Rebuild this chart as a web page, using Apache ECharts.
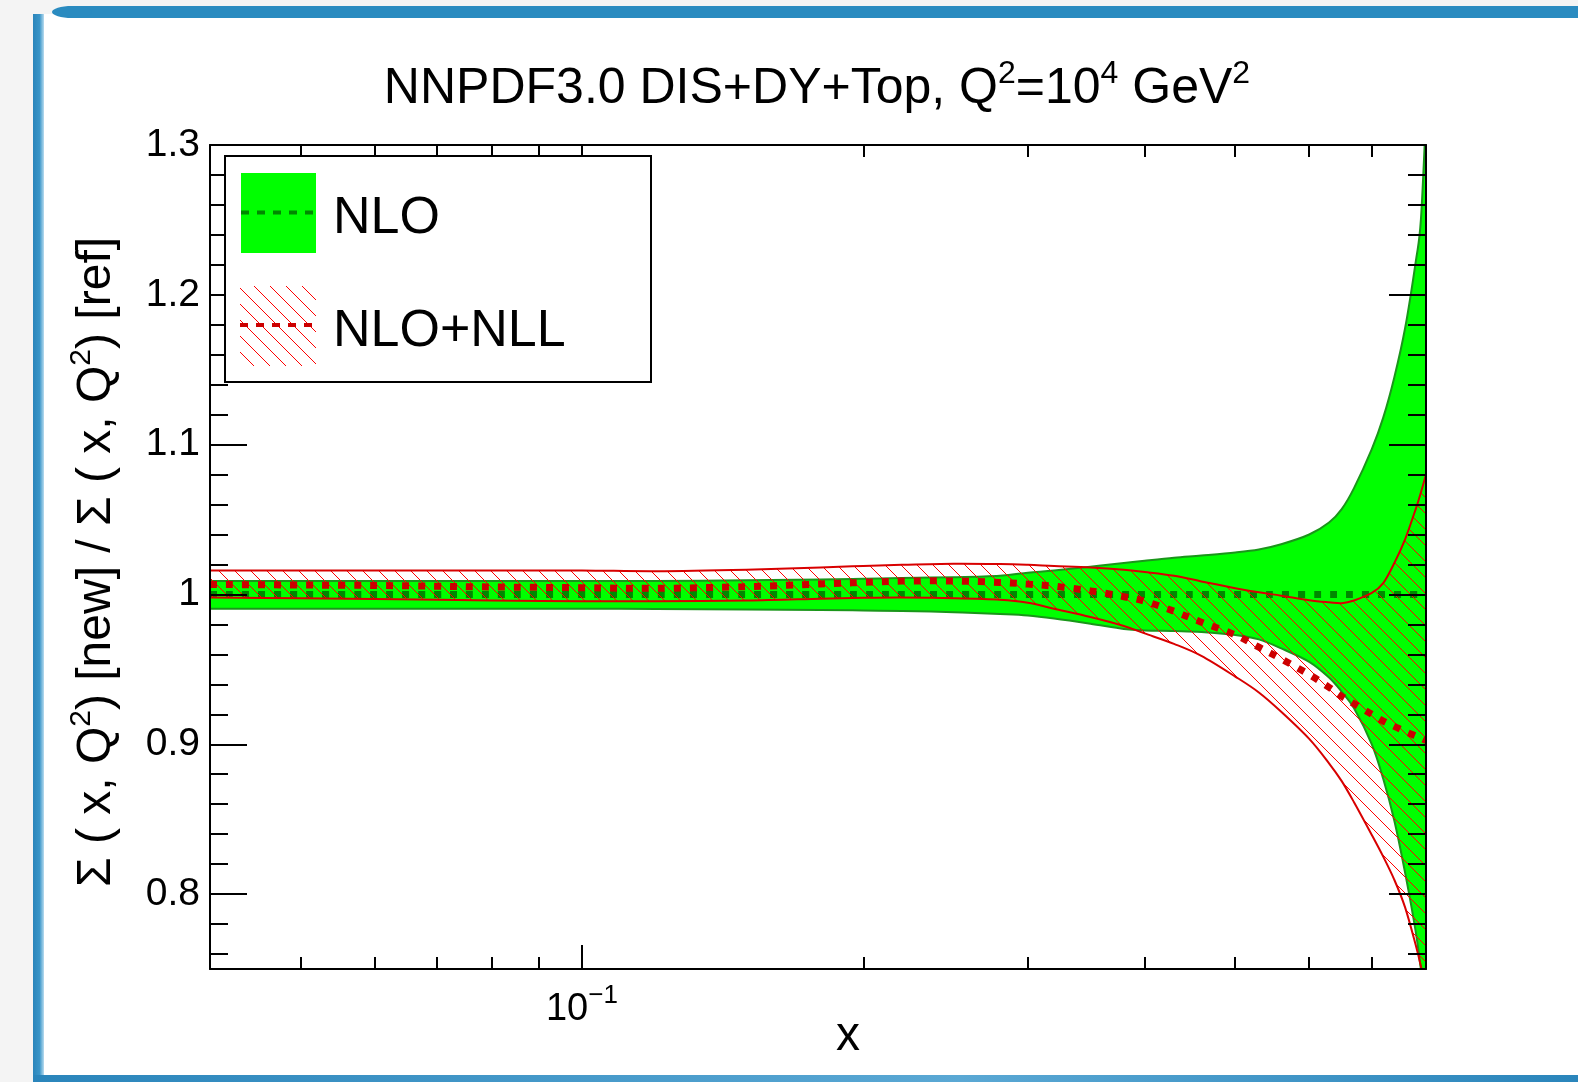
<!DOCTYPE html>
<html><head><meta charset="utf-8">
<script src="https://cdn.jsdelivr.net/npm/echarts@6/dist/echarts.min.js"></script>
<style>html,body{margin:0;padding:0;background:#f4f4f4;} #c{width:1578px;height:1082px;}</style>
</head><body><div id="c"></div>
<script>
// ---------------- data ----------------
const xs = [0.04, 0.05, 0.06, 0.07, 0.08, 0.1, 0.12, 0.15, 0.18, 0.2, 0.22, 0.25, 0.28, 0.3, 0.32, 0.35, 0.38, 0.4, 0.43, 0.46, 0.5, 0.53, 0.56, 0.6, 0.63, 0.65, 0.67, 0.7, 0.72, 0.74, 0.76, 0.78, 0.79, 0.8];
const nloCentral = [1, 1, 1, 1, 1, 1, 1, 1, 1, 1, 1, 1, 1, 1, 1, 1, 1, 1, 1, 1, 1, 1, 1, 1, 1, 1, 1, 1, 1, 1, 1, 1, 1, 1];
const nloUpper = [1.009, 1.009, 1.009, 1.009, 1.009, 1.009, 1.009, 1.0095, 1.010, 1.0105, 1.011, 1.0115, 1.0125, 1.0145, 1.016, 1.0185, 1.021, 1.0225, 1.0245, 1.026, 1.028, 1.030, 1.0335, 1.040, 1.048, 1.057, 1.071, 1.097, 1.118, 1.145, 1.178, 1.222, 1.25, 1.32];
const nloLower = [0.9905, 0.9905, 0.9905, 0.9905, 0.9905, 0.9905, 0.9903, 0.990, 0.9896, 0.9893, 0.989, 0.9882, 0.987, 0.986, 0.984, 0.9805, 0.977, 0.976, 0.9756, 0.975, 0.973, 0.970, 0.964, 0.955, 0.9445, 0.935, 0.924, 0.900, 0.877, 0.849, 0.814, 0.775, 0.750, 0.730];
const nllCentral = [1.0067, 1.0063, 1.006, 1.0055, 1.005, 1.0045, 1.0041, 1.0052, 1.007, 1.008, 1.0089, 1.009, 1.008, 1.0069, 1.0055, 1.0024, 0.9985, 0.9955, 0.9888, 0.9815, 0.973, 0.9648, 0.957, 0.9465, 0.938, 0.932, 0.927, 0.920, 0.9155, 0.912, 0.9085, 0.9055, 0.904, 0.9025];
const nllUpper = [1.016, 1.016, 1.016, 1.016, 1.016, 1.016, 1.0155, 1.0165, 1.018, 1.019, 1.0198, 1.0205, 1.0203, 1.0198, 1.019, 1.018, 1.0165, 1.015, 1.0125, 1.0087, 1.0042, 1.0014, 0.9992, 0.9962, 0.9948, 0.9942, 0.996, 1.001, 1.0076, 1.021, 1.037, 1.057, 1.068, 1.080];
const nllLower = [0.998, 0.9975, 0.997, 0.9965, 0.996, 0.9955, 0.9955, 0.996, 0.9972, 0.9978, 0.998, 0.9975, 0.9965, 0.9945, 0.9905, 0.985, 0.979, 0.974, 0.967, 0.959, 0.9452, 0.9346, 0.9217, 0.9036, 0.8873, 0.8754, 0.8613, 0.8395, 0.825, 0.8095, 0.791, 0.766, 0.752, 0.736];

const xMinorTicks = [0.05, 0.06, 0.07, 0.08, 0.09, 0.2, 0.3, 0.4, 0.5, 0.6, 0.7];
const xMajorTicks = [0.1];
const xMajorLabels = ['{b|10}{s|\u22121}'];
const yMajorTicks = [0.8, 0.9, 1.0, 1.1, 1.2, 1.3];
const yMajorLabels = ['0.8', '0.9', '1', '1.1', '1.2', '1.3'];
const yMinorTicks = [0.76, 0.78, 0.82, 0.84, 0.86, 0.88, 0.92, 0.94, 0.96, 0.98, 1.02, 1.04, 1.06, 1.08, 1.12, 1.14, 1.16, 1.18, 1.22, 1.24, 1.26, 1.28];
const seriesNames = ['NLO', 'NLO+NLL'];
const titleText = '{a|NNPDF3.0 DIS+DY+Top, Q}{s|2}{a|=10}{s|4}{a| GeV}{s|2}';
const yTitleText = '{a|\u03a3 ( x, Q}{s|2}{a|) [new] / \u03a3 ( x, Q}{s|2}{a|) [ref]}';
const xTitleText = 'x';

// ---------------- styles ----------------
const FONT = 'Liberation Sans, Arial, Helvetica, sans-serif';
const GREEN = '#00ff00', GREEN_EDGE = '#1a961a', GREEN_C = '#008800';
const RED_EDGE = '#d80000', RED_C = '#cc0000', HATCH = '#ff0000';

function makeHatch() {
  const s = 16;
  const c = document.createElement('canvas');
  c.width = s; c.height = s;
  const g = c.getContext('2d');
  g.strokeStyle = HATCH; g.lineWidth = 1;
  for (let k = -1; k <= 1; k++) {
    g.beginPath(); g.moveTo(k * s - 1, -1); g.lineTo(k * s + s + 1, s + 1); g.stroke();
  }
  return c;
}
const hatchCanvas = makeHatch();
const hatchFill = { image: hatchCanvas, repeat: 'repeat' };

const lx = v => Math.log10(v);

function splinePath(p, start) {
  let d = (start ? 'M' : 'L') + p[0][0].toFixed(2) + ' ' + p[0][1].toFixed(2);
  for (let i = 0; i < p.length - 1; i++) {
    const p0 = p[i - 1] || p[i], p1 = p[i], p2 = p[i + 1], p3 = p[i + 2] || p[i + 1];
    const c1 = [p1[0] + (p2[0] - p0[0]) / 6, p1[1] + (p2[1] - p0[1]) / 6];
    const c2 = [p2[0] - (p3[0] - p1[0]) / 6, p2[1] - (p3[1] - p1[1]) / 6];
    d += ' C' + c1[0].toFixed(2) + ' ' + c1[1].toFixed(2) + ' ' + c2[0].toFixed(2) + ' ' + c2[1].toFixed(2) + ' ' + p2[0].toFixed(2) + ' ' + p2[1].toFixed(2);
  }
  return d;
}
function pts(ys, api) { return xs.map((x, i) => api.coord([lx(x), ys[i]])); }

function bandSeries(name, up, lo, style, z) {
  return {
    type: 'custom', name, xAxisIndex: 0, yAxisIndex: 0, z, clip: true, silent: true,
    data: [[lx(0.1), 1]],
    renderItem: (params, api) => {
      const u = pts(up, api), l = pts(lo, api).reverse();
      return { type: 'path', shape: { pathData: splinePath(u, true) + ' ' + splinePath(l, false) + ' Z' }, style };
    }
  };
}
function lineSeries(name, ys, style, z) {
  return {
    type: 'custom', name, xAxisIndex: 0, yAxisIndex: 0, z, clip: true, silent: true,
    data: [[lx(0.1), 1]],
    renderItem: (params, api) => ({ type: 'path', shape: { pathData: splinePath(pts(ys, api), true) }, style: Object.assign({ fill: 'none' }, style) })
  };
}

const xCommon = { type: 'value', min: lx(0.04), max: lx(0.8), splitLine: { show: false }, z: 10 };
const yCommon = { type: 'value', min: 0.75, max: 1.3, splitLine: { show: false }, z: 10 };
const axLine = { show: true, lineStyle: { color: '#000', width: 2 } };
const tickStyle = { color: '#000', width: 2 };

const option = {
  backgroundColor: '#f4f4f4',
  animation: false,
  grid: { left: 210, top: 145, width: 1216, height: 824, containLabel: false, outerBoundsMode: 'none' },
  xAxis: [
    Object.assign({}, xCommon, { position: 'bottom', axisLine: axLine,
      axisTick: { show: true, inside: true, length: 12, customValues: xMinorTicks.map(lx), lineStyle: tickStyle },
      axisLabel: { show: true, customValues: xMajorTicks.map(lx), margin: 14, color: '#000',
        formatter: v => xMajorLabels[xMajorTicks.findIndex(t => Math.abs(lx(t) - v) < 1e-9)] || '',
        rich: { b: { fontSize: 38, lineHeight: 46, verticalAlign: 'bottom', fontFamily: FONT, color: '#000' },
                s: { fontSize: 26, lineHeight: 26, verticalAlign: 'top', fontFamily: FONT, color: '#000' } } } }),
    Object.assign({}, xCommon, { position: 'bottom', axisLine: { show: false },
      axisTick: { show: true, inside: true, length: 24, customValues: xMajorTicks.map(lx), lineStyle: tickStyle },
      axisLabel: { show: false } }),
    Object.assign({}, xCommon, { position: 'top', axisLine: axLine,
      axisTick: { show: true, inside: true, length: 12, customValues: xMinorTicks.concat(xMajorTicks).map(lx), lineStyle: tickStyle },
      axisLabel: { show: false } })
  ],
  yAxis: [
    Object.assign({}, yCommon, { position: 'left', axisLine: axLine,
      axisTick: { show: true, inside: true, length: 37, customValues: yMajorTicks, lineStyle: tickStyle },
      axisLabel: { show: true, customValues: yMajorTicks, margin: 10, color: '#000', fontSize: 39, fontFamily: FONT,
        formatter: v => yMajorLabels[yMajorTicks.findIndex(t => Math.abs(t - v) < 1e-9)] || '' } }),
    Object.assign({}, yCommon, { position: 'left', axisLine: { show: false },
      axisTick: { show: true, inside: true, length: 18, customValues: yMinorTicks, lineStyle: tickStyle },
      axisLabel: { show: false } }),
    Object.assign({}, yCommon, { position: 'right', axisLine: axLine,
      axisTick: { show: true, inside: true, length: 37, customValues: yMajorTicks, lineStyle: tickStyle },
      axisLabel: { show: false } }),
    Object.assign({}, yCommon, { position: 'right', axisLine: { show: false },
      axisTick: { show: true, inside: true, length: 18, customValues: yMinorTicks, lineStyle: tickStyle },
      axisLabel: { show: false } })
  ],
  series: [
    bandSeries(seriesNames[0], nloUpper, nloLower, { fill: GREEN, stroke: 'none' }, 2),
    lineSeries(seriesNames[0] + ' up', nloUpper, { stroke: GREEN_EDGE, lineWidth: 2 }, 3),
    lineSeries(seriesNames[0] + ' lo', nloLower, { stroke: GREEN_EDGE, lineWidth: 2 }, 3),
    lineSeries(seriesNames[0] + ' c', nloCentral, { stroke: GREEN_C, lineWidth: 7, lineDash: [7, 9] }, 4),
    bandSeries(seriesNames[1], nllUpper, nllLower, { fill: hatchFill, stroke: 'none' }, 5),
    lineSeries(seriesNames[1] + ' up', nllUpper, { stroke: RED_EDGE, lineWidth: 2 }, 6),
    lineSeries(seriesNames[1] + ' lo', nllLower, { stroke: RED_EDGE, lineWidth: 2 }, 6),
    lineSeries(seriesNames[1] + ' c', nllCentral, { stroke: RED_C, lineWidth: 7, lineDash: [7, 9] }, 7)
  ],
  graphic: [
    // slide frame
    { type: 'rect', z: -100, shape: { x: 40, y: 14, width: 1538, height: 1062 }, style: { fill: '#ffffff' } },
    { type: 'rect', z: -90, shape: { x: 70, y: 6, width: 1508, height: 12 }, style: { fill: '#2a8bc0' } },
    { type: 'ellipse', z: -90, shape: { cx: 72, cy: 12, rx: 20, ry: 6 }, style: { fill: '#2a8bc0' } },
    { type: 'rect', z: -90, shape: { x: 33, y: 14, width: 11, height: 1068 },
      style: { fill: { type: 'linear', x: 0, y: 0, x2: 1, y2: 0, colorStops: [{ offset: 0, color: '#2a85bb' }, { offset: 0.6, color: '#3a95c8' }, { offset: 1, color: '#b9dcef' }] } } },
    { type: 'rect', z: -90, shape: { x: 33, y: 1075, width: 1545, height: 7 },
      style: { fill: { type: 'linear', x: 0, y: 0, x2: 1, y2: 0, colorStops: [{ offset: 0, color: '#2a85bb' }, { offset: 0.6, color: '#5aa8d4' }, { offset: 1, color: '#2a85bb' }] } } },
    // title
    { type: 'text', z: 50, x: 817, y: 86, style: { text: titleText, align: 'center', verticalAlign: 'middle', fill: '#000',
      rich: { a: { fontSize: 50, lineHeight: 56, verticalAlign: 'bottom', fontFamily: FONT, fill: '#000' },
              s: { fontSize: 32, lineHeight: 30, verticalAlign: 'top', fontFamily: FONT, fill: '#000' } } } },
    // y title
    { type: 'text', z: 50, x: 94, y: 562, rotation: Math.PI / 2, style: { text: yTitleText, align: 'center', verticalAlign: 'middle', fill: '#000',
      rich: { a: { fontSize: 48, lineHeight: 54, verticalAlign: 'bottom', fontFamily: FONT, fill: '#000' },
              s: { fontSize: 30, lineHeight: 28, verticalAlign: 'top', fontFamily: FONT, fill: '#000' } } } },
    // x title
    { type: 'text', z: 50, x: 848, y: 1037, style: { text: xTitleText, align: 'center', verticalAlign: 'middle', fill: '#000', fontSize: 48, fontFamily: FONT } },
    // legend
    { type: 'group', z: 100, children: [
      { type: 'rect', z: 100, shape: { x: 225, y: 156, width: 426, height: 226 }, style: { fill: '#fff', stroke: '#000', lineWidth: 2 } },
      { type: 'rect', z: 101, shape: { x: 241, y: 173, width: 75, height: 80 }, style: { fill: GREEN } },
      { type: 'line', z: 102, shape: { x1: 241, y1: 212.5, x2: 316, y2: 212.5 }, style: { stroke: GREEN_C, lineWidth: 4, lineDash: [8, 8] } },
      { type: 'rect', z: 101, shape: { x: 240, y: 286, width: 76, height: 80 }, style: { fill: hatchFill } },
      { type: 'line', z: 102, shape: { x1: 240, y1: 325, x2: 316, y2: 325 }, style: { stroke: RED_C, lineWidth: 4, lineDash: [8, 8] } },
      { type: 'text', z: 102, x: 333, y: 219, style: { text: seriesNames[0], fontSize: 52, fontFamily: FONT, fill: '#000', verticalAlign: 'middle' } },
      { type: 'text', z: 102, x: 333, y: 332, style: { text: seriesNames[1], fontSize: 52, fontFamily: FONT, fill: '#000', verticalAlign: 'middle' } }
    ] }
  ]
};
const chart = echarts.init(document.getElementById('c'), null, { renderer: 'canvas' });
chart.setOption(option);
</script></body></html>
